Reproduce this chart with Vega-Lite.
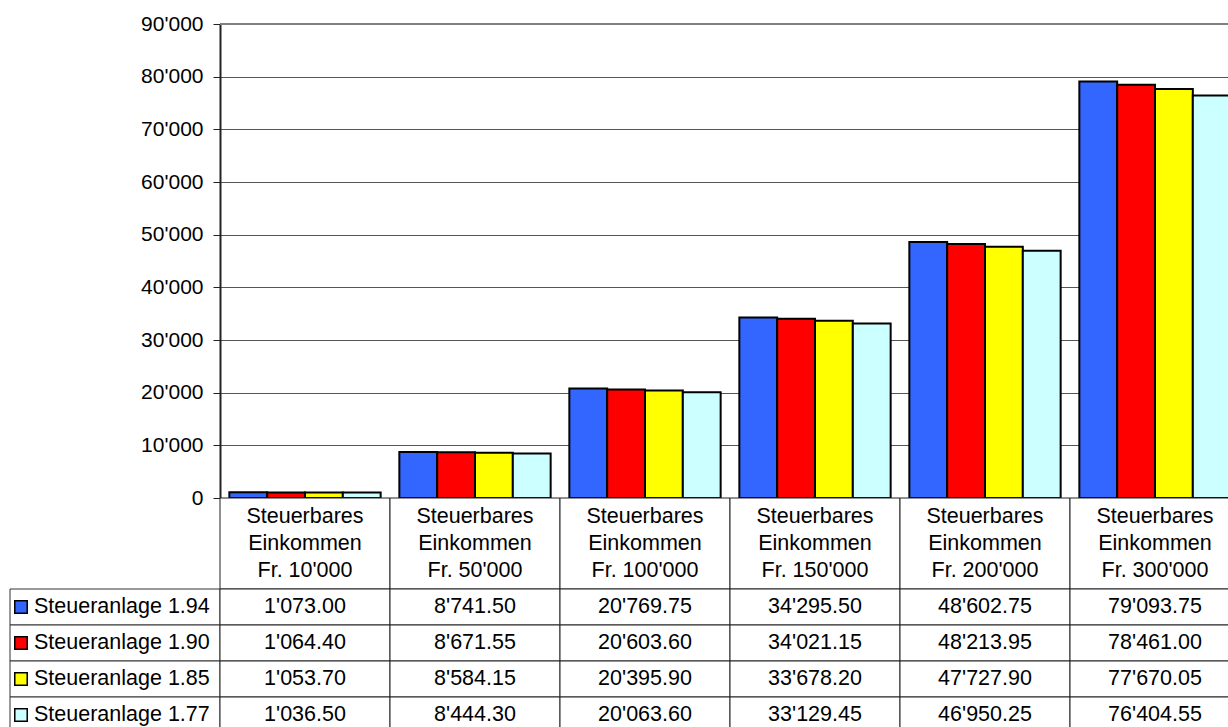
{
  "$schema": "https://vega.github.io/schema/vega-lite/v6.json",
  "padding": {"left": 9, "top": 13, "right": 0, "bottom": 0},
  "config": {
    "view": {"stroke": null},
    "font": "Liberation Sans",
    "locale": {"number": {"decimal": ".", "thousands": "'", "grouping": [3], "currency": ["", ""]}}
  },
  "datasets": {
    "tax": [
      {"cat": "Steuerbares\nEinkommen\nFr. 10'000", "series": "Steueranlage 1.94", "value": 1073.00},
      {"cat": "Steuerbares\nEinkommen\nFr. 10'000", "series": "Steueranlage 1.90", "value": 1064.40},
      {"cat": "Steuerbares\nEinkommen\nFr. 10'000", "series": "Steueranlage 1.85", "value": 1053.70},
      {"cat": "Steuerbares\nEinkommen\nFr. 10'000", "series": "Steueranlage 1.77", "value": 1036.50},
      {"cat": "Steuerbares\nEinkommen\nFr. 50'000", "series": "Steueranlage 1.94", "value": 8741.50},
      {"cat": "Steuerbares\nEinkommen\nFr. 50'000", "series": "Steueranlage 1.90", "value": 8671.55},
      {"cat": "Steuerbares\nEinkommen\nFr. 50'000", "series": "Steueranlage 1.85", "value": 8584.15},
      {"cat": "Steuerbares\nEinkommen\nFr. 50'000", "series": "Steueranlage 1.77", "value": 8444.30},
      {"cat": "Steuerbares\nEinkommen\nFr. 100'000", "series": "Steueranlage 1.94", "value": 20769.75},
      {"cat": "Steuerbares\nEinkommen\nFr. 100'000", "series": "Steueranlage 1.90", "value": 20603.60},
      {"cat": "Steuerbares\nEinkommen\nFr. 100'000", "series": "Steueranlage 1.85", "value": 20395.90},
      {"cat": "Steuerbares\nEinkommen\nFr. 100'000", "series": "Steueranlage 1.77", "value": 20063.60},
      {"cat": "Steuerbares\nEinkommen\nFr. 150'000", "series": "Steueranlage 1.94", "value": 34295.50},
      {"cat": "Steuerbares\nEinkommen\nFr. 150'000", "series": "Steueranlage 1.90", "value": 34021.15},
      {"cat": "Steuerbares\nEinkommen\nFr. 150'000", "series": "Steueranlage 1.85", "value": 33678.20},
      {"cat": "Steuerbares\nEinkommen\nFr. 150'000", "series": "Steueranlage 1.77", "value": 33129.45},
      {"cat": "Steuerbares\nEinkommen\nFr. 200'000", "series": "Steueranlage 1.94", "value": 48602.75},
      {"cat": "Steuerbares\nEinkommen\nFr. 200'000", "series": "Steueranlage 1.90", "value": 48213.95},
      {"cat": "Steuerbares\nEinkommen\nFr. 200'000", "series": "Steueranlage 1.85", "value": 47727.90},
      {"cat": "Steuerbares\nEinkommen\nFr. 200'000", "series": "Steueranlage 1.77", "value": 46950.25},
      {"cat": "Steuerbares\nEinkommen\nFr. 300'000", "series": "Steueranlage 1.94", "value": 79093.75},
      {"cat": "Steuerbares\nEinkommen\nFr. 300'000", "series": "Steueranlage 1.90", "value": 78461.00},
      {"cat": "Steuerbares\nEinkommen\nFr. 300'000", "series": "Steueranlage 1.85", "value": 77670.05},
      {"cat": "Steuerbares\nEinkommen\nFr. 300'000", "series": "Steueranlage 1.77", "value": 76404.55}
    ]
  },
  "columns": 2,
  "spacing": 0,
  "bounds": "flush",
  "concat": [
    {
      "width": 210, "height": 474,
      "data": {"values": []},
      "mark": "point"
    },
    {
      "width": 1020, "height": 474,
      "data": {"name": "tax"},
      "layer": [
        {
          "mark": {"type": "bar", "stroke": "black", "strokeWidth": 2},
          "encoding": {
            "x": {"field": "cat", "type": "nominal", "sort": null,
                  "scale": {"paddingInner": 0.11, "paddingOuter": 0.055}, "axis": null},
            "xOffset": {"field": "series", "type": "nominal", "sort": null, "scale": {"paddingInner": 0, "paddingOuter": 0}},
            "y": {"field": "value", "type": "quantitative",
                  "scale": {"domain": [0, 90000], "nice": false},
                  "axis": {"title": null, "values": [0, 10000, 20000, 30000, 40000, 50000, 60000, 70000, 80000, 90000],
                           "format": ",.0f", "grid": true, "gridColor": "#555555", "gridWidth": 1,
                           "domainColor": "#222222", "domainWidth": 2, "tickColor": "#222222", "tickSize": 7, "tickWidth": 1,
                           "labelPadding": 10, "labelFontSize": 21, "labelColor": "black", "labelFont": "Liberation Sans"}},
            "color": {"field": "series", "type": "nominal", "sort": null,
                      "scale": {"domain": ["Steueranlage 1.94", "Steueranlage 1.90", "Steueranlage 1.85", "Steueranlage 1.77"],
                                "range": ["#3366FF", "#FF0000", "#FFFF00", "#CCFFFF"]},
                      "legend": null}
          }
        },
        {
          "data": {"values": [{"top": 90000}]},
          "mark": {"type": "rule", "color": "#808080", "strokeWidth": 2},
          "encoding": {"y": {"field": "top", "type": "quantitative"}}
        }
      ]
    },
    {
      "width": 210, "height": 91,
      "data": {"values": []},
      "mark": "point"
    },
    {
      "width": 1020, "height": 91,
      "data": {"name": "tax"},
      "transform": [{"filter": "datum.series === 'Steueranlage 1.94'"}],
      "encoding": {
        "x": {"field": "cat", "type": "nominal", "sort": null, "scale": {"paddingInner": 0, "paddingOuter": 0}, "axis": null}
      },
      "layer": [
        {"mark": {"type": "rect", "fill": "white", "stroke": "#222222", "strokeWidth": 1}},
        {"mark": {"type": "text", "fontSize": 21.5, "lineBreak": "\n", "lineHeight": 27, "baseline": "middle", "align": "center", "dy": -27, "color": "black"},
         "encoding": {"text": {"field": "cat"}}}
      ]
    },
    {
      "width": 210, "height": 144,
      "data": {"name": "tax"},
      "transform": [{"filter": "datum.cat === \"Steuerbares\\nEinkommen\\nFr. 10'000\""}],
      "encoding": {
        "y": {"field": "series", "type": "nominal", "sort": null, "scale": {"paddingInner": 0, "paddingOuter": 0}, "axis": null}
      },
      "layer": [
        {"mark": {"type": "rect", "fill": "white", "stroke": "#333333", "strokeWidth": 1}},
        {"mark": {"type": "point", "shape": "square", "filled": true, "size": 155, "stroke": "black", "strokeWidth": 1.5, "opacity": 1},
         "encoding": {
           "x": {"value": 11},
           "fill": {"field": "series", "type": "nominal", "sort": null,
                    "scale": {"domain": ["Steueranlage 1.94", "Steueranlage 1.90", "Steueranlage 1.85", "Steueranlage 1.77"],
                              "range": ["#3366FF", "#FF0000", "#FFFF00", "#CCFFFF"]},
                    "legend": null}
         }},
        {"mark": {"type": "text", "fontSize": 21.5, "align": "left", "baseline": "middle", "color": "black"},
         "encoding": {"x": {"value": 24}, "text": {"field": "series"}}}
      ]
    },
    {
      "width": 1020, "height": 144,
      "data": {"name": "tax"},
      "encoding": {
        "x": {"field": "cat", "type": "nominal", "sort": null, "scale": {"paddingInner": 0, "paddingOuter": 0}, "axis": null},
        "y": {"field": "series", "type": "nominal", "sort": null, "scale": {"paddingInner": 0, "paddingOuter": 0}, "axis": null}
      },
      "layer": [
        {"mark": {"type": "rect", "fill": "white", "stroke": "#222222", "strokeWidth": 1}},
        {"mark": {"type": "text", "fontSize": 21.5, "align": "center", "baseline": "middle", "color": "black"},
         "encoding": {"text": {"field": "value", "type": "quantitative", "format": ",.2f"}}}
      ]
    }
  ]
}
